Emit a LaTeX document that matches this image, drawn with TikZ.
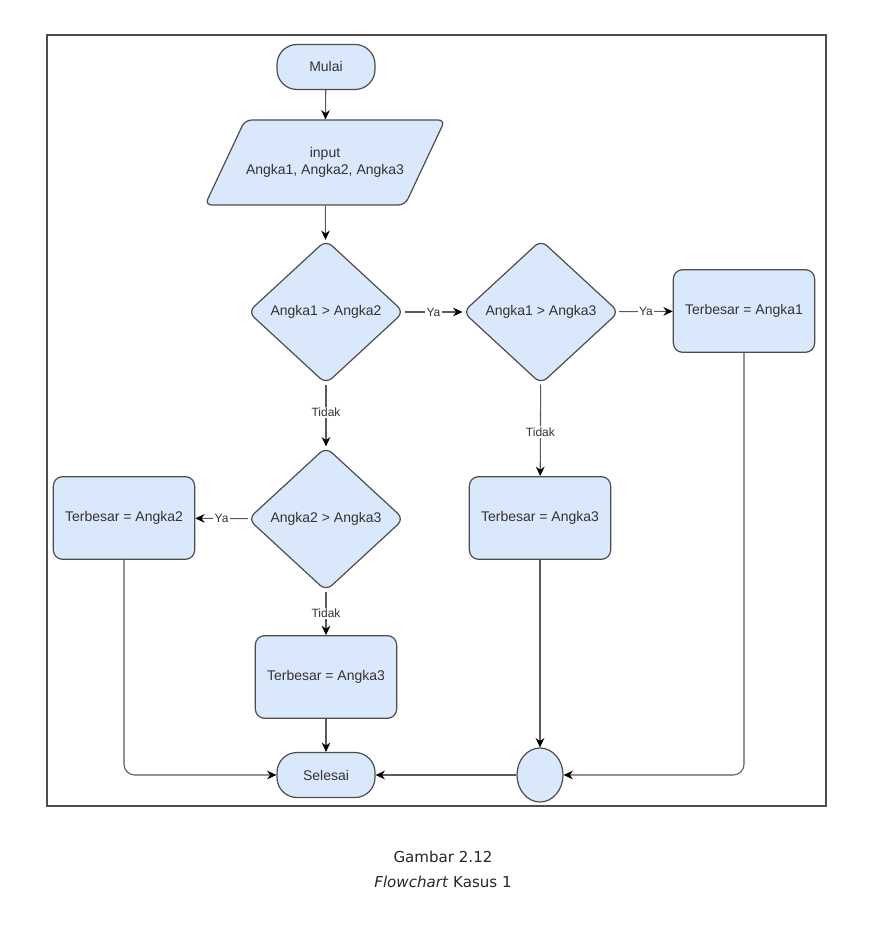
\documentclass[tikz,border=0pt]{standalone}
\usepackage{fontspec}
\setmainfont{Liberation Sans}
\newfontfamily\capfont{DejaVu Sans}
\usetikzlibrary{shapes.geometric,shapes.misc,arrows.meta}
\definecolor{boxfill}{HTML}{DAE8FC}
\definecolor{boxline}{HTML}{4D4D4D}
\definecolor{txt}{HTML}{333333}
\definecolor{conn}{HTML}{5A5A5A}
\tikzset{
  base/.style={draw=boxline, fill=boxfill, line width=0.9pt, text=txt,
    font=\fontsize{10.5}{12.5}\selectfont, inner sep=0pt, align=center},
  term/.style={base, rectangle, rounded corners=15pt, minimum width=73.5pt, minimum height=33.75pt},
  iotext/.style={base, draw=none, fill=none, rectangle, minimum width=150pt, minimum height=63.75pt},
  ioshape/.style={draw=boxline, fill=boxfill, line width=0.9pt, rounded corners=5pt},
  dec/.style={base, diamond, rounded corners=6pt, minimum width=117pt, minimum height=108pt},
  proc/.style={base, rectangle, rounded corners=7pt, minimum width=106pt, minimum height=62pt},
  conncirc/.style={base, ellipse, minimum width=34.5pt, minimum height=40.5pt},
  arr/.style={draw=conn, line width=0.8pt, -{Stealth[length=7pt,width=6.5pt,black]}},
  lbl/.style={fill=white, inner sep=1pt, text=txt, font=\fontsize{9}{10}\selectfont},
}
\begin{document}
\begin{tikzpicture}[x=0.75pt,y=-0.75pt]
\useasboundingbox (0,0) rectangle (886,944);
\fill[white] (0,0) rectangle (886,944);
\draw[draw=boxline, line width=1.1pt] (47,35) rectangle (826,806);

\node[term] (mulai) at (326,67) {Mulai};
\draw[ioshape] (245,120) -- (445,120) -- (405,205) -- (205,205) -- cycle;
\node[iotext] (input) at (325,162.5) {input\\Angka1, Angka2, Angka3};
\node[dec] (d1) at (326,312) {Angka1 > Angka2};
\node[dec] (d2) at (541,312) {Angka1 > Angka3};
\node[proc] (b1) at (744,311) {Terbesar = Angka1};
\node[dec] (d3) at (326,519) {Angka2 > Angka3};
\node[proc] (b2) at (124,518) {Terbesar = Angka2};
\node[proc] (b4) at (540,518) {Terbesar = Angka3};
\node[proc] (b3) at (326,677) {Terbesar = Angka3};
\node[term] (selesai) at (326,775) {Selesai};
\node[conncirc] (circ) at (540,775) {};

\draw[arr] (mulai) -- (input);
\draw[arr] (input) -- (d1);
\draw[arr] (d1) -- node[lbl]{Ya} (d2);
\draw[arr] (d2) -- node[lbl]{Ya} (b1);
\draw[arr] (d1) -- node[lbl, pos=0.45]{Tidak} (d3);
\draw[arr] (d3) -- node[lbl]{Ya} (b2);
\draw[arr] (d3) -- node[lbl, pos=0.5]{Tidak} (b3);
\draw[arr] (d2) -- node[lbl, pos=0.52]{Tidak} (b4);
\draw[arr] (b3) -- (selesai);
\draw[arr] (b4) -- (circ);
\draw[arr] (circ) -- (selesai);
\draw[arr, rounded corners=8pt] (b1.south) |- (circ);
\draw[arr, rounded corners=8pt] (b2.south) |- (selesai);

\node[font=\capfont\fontsize{11.3}{13}\selectfont, text=black!85] (cap1) at (443,857) {Gambar 2.12};
\node[font=\capfont\fontsize{11.3}{13}\selectfont, text=black!85] (cap2) at (443,882) {\textit{Flowchart} Kasus 1};
\end{tikzpicture}
\end{document}
